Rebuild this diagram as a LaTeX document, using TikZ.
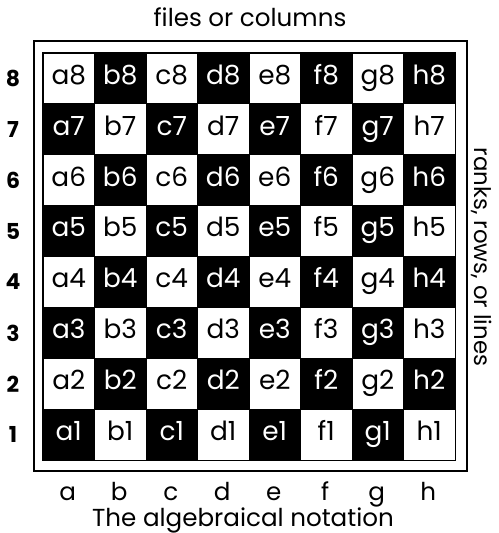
\documentclass[tikz,border=0pt]{standalone}
\usepackage{fontspec}
\setmainfont{Poppins}
\usetikzlibrary{positioning}
\tikzset{
  sq/.style={rectangle, draw=black, line width=0.5pt, inner sep=0pt, minimum width=1.03cm, minimum height=1.018cm, text height=1.6ex, text depth=0.4ex, font=\fontsize{15}{15}\selectfont},
  frame/.style={draw=black, line width=1.6pt},
  edge/.style={draw=black, line width=0.8pt},
  rank/.style={font=\fontsize{12.5}{12.5}\selectfont\bfseries},
  file/.style={anchor=base, font=\fontsize{14}{14}\selectfont},
  caption/.style={font=\fontsize{14}{15}\selectfont},
}

\begin{document}
\begin{tikzpicture}[x=0.02cm, y=-0.02cm]
  \useasboundingbox (0,0) rectangle (499,533);
  \node[caption, anchor=base] (top) at (250,27) {files or columns};
  \draw[frame] (34,41) rectangle (467,471);
  % squares
  \foreach \f [count=\i] in {a,b,c,d,e,f,g,h} {
    \foreach \r in {1,...,8} {
      \pgfmathtruncatemacro\sqpar{mod(\i+\r,2)}
      \ifnum\sqpar=0 \def\sqfill{black}\def\sqtxt{white}\else \def\sqfill{white}\def\sqtxt{black}\fi
      \node[sq, fill=\sqfill, text=\sqtxt] (\f\r) at ({43+(\i-0.5)*51.5},{53+(8.5-\r)*50.9}) {\f\r};
    }
    \node[file] (col\f) at ({42+(\i-0.5)*51.5},500) {\f};
  }
  \draw[edge] (a8.north west) rectangle (h1.south east);
  \foreach \r in {1,...,8}
    \node[rank] (row\r) at (13,{53+(8.5-\r)*50.9}) {\r};
  \node[caption, rotate=-90, font=\fontsize{13}{14}\selectfont] (side) at (482,257) {ranks, rows, or lines};
  \node[caption, anchor=base] (bottom) at (243,526) {The algebraical notation};
\end{tikzpicture}
\end{document}
